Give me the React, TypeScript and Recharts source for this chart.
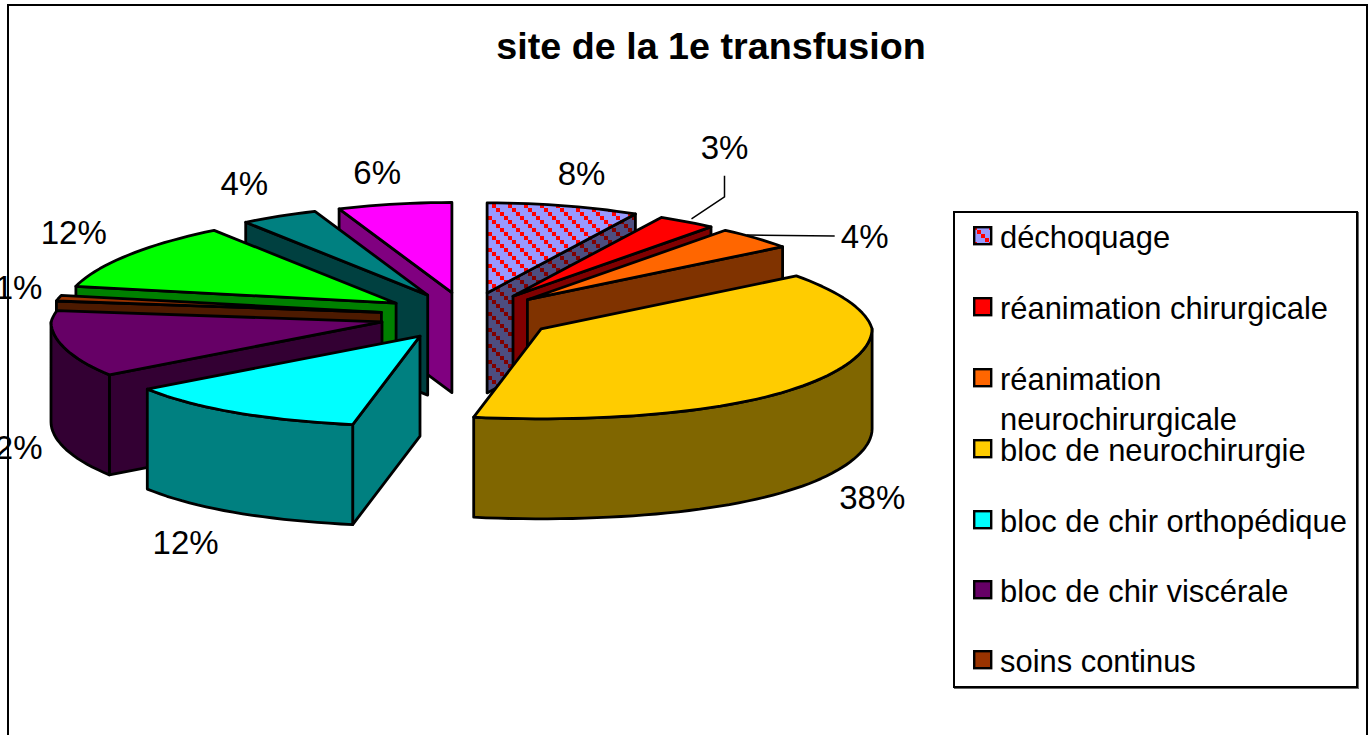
import React from "react";
import { PieChart, Pie, Legend } from "recharts";

const W = 1372;
const H = 735;

const TITLE = "site de la 1e transfusion";
const categories = [
  "déchoquage",
  "réanimation chirurgicale",
  "réanimation neurochirurgicale",
  "bloc de neurochirurgie",
  "bloc de chir orthopédique",
  "bloc de chir viscérale",
  "soins continus",
  "bloc de chir vasculaire",
  "bloc de chir thoracique",
  "autre",
];
const percents = [8, 3, 4, 38, 12, 12, 1, 12, 4, 6];
const fills = ["url(#hatch)", "#ff0000", "#ff6600", "#ffcc00", "#00ffff", "#660066", "#993300", "#00ff00", "#008080", "#ff00ff"];
const sides = ["url(#hatchDark)", "#800000", "#803300", "#806600", "#008080", "#330033", "#4d1a00", "#008000", "#004040", "#800080"];
const legendCount = 7;

const rows = categories.map((name, i) => ({ name, value: percents[i], fill: fills[i], side: sides[i] }));
const FRONT_RIGHT = 4; // slices drawn clockwise from the top
const rightRows = rows.slice(0, FRONT_RIGHT);
const leftRows = rows.slice(FRONT_RIGHT).reverse(); // drawn back to front, counter-clockwise
const total = percents.reduce((a, b) => a + b, 0);
const rightShare = rightRows.reduce((a, r) => a + r.value, 0) / total;

// layout of the tilted pie
const CX = 467;
const CY = 316;
const RX = 331;
const SQUASH = 0.272;
const EXPLODE = 0.265;
const DEPTH = 100;
const PERSPECTIVE_BACK = 0.08;
const PERSPECTIVE_FRONT = 0.09;
const FONT = "'Liberation Sans', Arial, sans-serif";

const labelLayout: Record<string, { dx: number; dy: number; leader?: [number, number][] }> = {
  "déchoquage": { dx: 9, dy: -32 },
  "réanimation chirurgicale": { dx: 20, dy: -74, leader: [[-13, -3], [20, -25], [20, -46]] },
  "réanimation neurochirurgicale": { dx: 90, dy: -2, leader: [[-28, -3], [60, -2]] },
  "bloc de neurochirurgie": { dx: 49, dy: 120 },
  "bloc de chir orthopédique": { dx: -57, dy: 130 },
  "bloc de chir viscérale": { dx: -51, dy: 103 },
  "soins continus": { dx: -34, dy: -11 },
  "bloc de chir vasculaire": { dx: -39, dy: -22 },
  "bloc de chir thoracique": { dx: -21, dy: -33 },
  autre: { dx: -12, dy: -32 },
};

const rad = (d: number) => (d * Math.PI) / 180;

function widthFactor(a: number) {
  const s = Math.sin(rad(a));
  return s > 0 ? 1 - PERSPECTIVE_BACK * s : 1 + PERSPECTIVE_FRONT * Math.pow(-s, 3);
}

function normalise(startAngle: number, endAngle: number) {
  let lo = Math.min(startAngle, endAngle);
  let hi = Math.max(startAngle, endAngle);
  if (hi > 90.001) {
    lo -= 360;
    hi -= 360;
  }
  return { lo, hi };
}

function geometry(p: any) {
  const { lo, hi } = normalise(p.startAngle, p.endAngle);
  const rx = p.outerRadius;
  const ry = rx * SQUASH;
  const mid = (lo + hi) / 2;
  const back = Math.max(0, Math.sin(rad(mid)));
  const ax = p.cx + EXPLODE * rx * Math.cos(rad(mid)) * (1 - PERSPECTIVE_BACK * back);
  const ay = p.cy - EXPLODE * ry * Math.sin(rad(mid));
  const at = (a: number, drop = 0): [number, number] => [
    ax + rx * Math.cos(rad(a)) * widthFactor(a),
    ay - ry * Math.sin(rad(a)) + drop,
  ];
  const flatRim: [number, number] = [
    p.cx + 1 + EXPLODE * rx * Math.cos(rad(mid)) + (rx + 2) * Math.cos(rad(mid)),
    ay - ry * Math.sin(rad(mid)),
  ];
  return { lo, hi, rx, ry, mid, ax, ay, at, flatRim };
}

const pts = (list: [number, number][]) => list.map((q) => q.map((v) => v.toFixed(1)).join(",")).join(" ");

function arcPoints(at: (a: number, d?: number) => [number, number], from: number, to: number, drop = 0) {
  const out: [number, number][] = [];
  const n = Math.max(2, Math.ceil(Math.abs(to - from) / 2));
  for (let i = 0; i <= n; i++) out.push(at(from + ((to - from) * i) / n, drop));
  return out;
}

const stroke = { stroke: "#000", strokeWidth: 2.8, strokeLinejoin: "round" as const };

function Slice3D(props: any) {
  const { lo, hi, ax, ay, at } = geometry(props);
  const side = props.side ?? props.payload?.side;
  const top = props.payload?.fill ?? props.fill;
  const sLo = Math.max(lo, -180);
  const sHi = Math.min(hi, 0);
  const wall = (a: number) => {
    const e = at(a);
    return pts([[ax, ay], e, [e[0], e[1] + DEPTH], [ax, ay + DEPTH]]);
  };
  return (
    <g>
      <defs>
        <pattern id="hatch" width="16" height="16" patternUnits="userSpaceOnUse">
          <rect width="16" height="16" fill="#9999ff" />
          <path d="M0 0h4v4h-4zM4 4h4v4h-4zM8 8h4v4h-4zM12 12h4v4h-4z" fill="#ff0000" />
        </pattern>
        <pattern id="hatchDark" width="16" height="16" patternUnits="userSpaceOnUse">
          <rect width="16" height="16" fill="#4d4d80" />
          <path d="M0 0h4v4h-4zM4 4h4v4h-4zM8 8h4v4h-4zM12 12h4v4h-4z" fill="#800000" />
        </pattern>
      </defs>
      {Math.cos(rad(lo)) > 0 && <polygon points={wall(lo)} fill={side} {...stroke} />}
      {Math.cos(rad(hi)) < 0 && <polygon points={wall(hi)} fill={side} {...stroke} />}
      {sHi > sLo && (
        <polygon
          points={pts([...arcPoints(at, sLo, sHi), ...arcPoints(at, sHi, sLo, DEPTH)])}
          fill={side}
          {...stroke}
        />
      )}
      <polygon points={pts([[ax, ay], ...arcPoints(at, lo, hi)])} fill={top} {...stroke} />
    </g>
  );
}

function SliceLabel(props: any) {
  const { flatRim: rim } = geometry(props);
  const name = props.name ?? props.payload?.name;
  const lay = labelLayout[name];
  const x = rim[0] + lay.dx;
  const y = rim[1] + lay.dy;
  return (
    <g>
      {lay.leader && (
        <polyline
          points={pts(lay.leader.map((q) => [rim[0] + q[0], rim[1] + q[1]] as [number, number]))}
          fill="none"
          stroke="#000"
          strokeWidth={1.5}
        />
      )}
      <text x={x} y={y} textAnchor="middle" dominantBaseline="central" fontFamily={FONT} fontSize={33} fill="#000">
        {`${props.value}%`}
      </text>
    </g>
  );
}

function LegendBox() {
  const rowTops = [237, 308, 379, 450, 521, 591, 661];
  return (
    <div
      style={{
        position: "relative",
        width: 401,
        height: 473,
        border: "2px solid #000",
        boxShadow: "1px 1px 0 #666",
        background: "#fff",
        fontFamily: FONT,
        fontSize: 30.9,
        color: "#000",
      }}
    >
      {rows.slice(0, legendCount).map((r, i) => {
        const words = r.name === "réanimation neurochirurgicale" ? r.name.split(" ") : [r.name];
        const top = rowTops[i] - 212 - 2;
        return (
          <React.Fragment key={r.name}>
            <svg
              width={20}
              height={20}
              style={{ position: "absolute", left: 18, top: top - 10 }}
            >
              <rect x={1.2} y={1.2} width={17} height={17} fill={r.fill} stroke="#000" strokeWidth={2.4} />
            </svg>
            {words.map((w, k) => (
              <div
                key={w}
                style={{ position: "absolute", left: 45, top: top - 18 + k * 40, lineHeight: "40px", whiteSpace: "nowrap" }}
              >
                {w}
              </div>
            ))}
          </React.Fragment>
        );
      })}
    </div>
  );
}

export default function App() {
  return (
    <div style={{ position: "absolute", left: 0, top: 0, width: W, height: H, overflow: "hidden", background: "#fff" }}>
      <div
        style={{
          position: "absolute",
          left: 7,
          top: 4,
          width: 1361,
          height: H,
          border: "2.5px solid #000",
          boxSizing: "border-box",
        }}
      />
      <div
        style={{
          position: "absolute",
          left: 0,
          width: 1422,
          top: 24,
          textAlign: "center",
          fontFamily: FONT,
          fontWeight: 700,
          fontSize: 37.7,
          lineHeight: "44px",
          color: "#000",
        }}
      >
        {TITLE}
      </div>
      <PieChart width={W} height={H} style={{ position: "absolute", left: 0, top: 0 }} margin={{ top: 0, right: 0, bottom: 0, left: 0 }}>
        <Pie
          data={leftRows}
          dataKey="value"
          nameKey="name"
          cx={CX}
          cy={CY}
          outerRadius={RX}
          startAngle={90}
          endAngle={90 + 360 * (1 - rightShare)}
          stroke="none"
          shape={Slice3D}
          label={SliceLabel}
          labelLine={false}
          isAnimationActive={false}
        />
        <Pie
          data={rightRows}
          dataKey="value"
          nameKey="name"
          cx={CX}
          cy={CY}
          outerRadius={RX}
          startAngle={90}
          endAngle={90 - 360 * rightShare}
          stroke="none"
          shape={Slice3D}
          label={SliceLabel}
          labelLine={false}
          isAnimationActive={false}
        />
        <Legend
          content={<LegendBox />}
          layout="vertical"
          verticalAlign="middle"
          align="right"
          wrapperStyle={{ position: "absolute", left: 953, top: 211, right: "auto", width: 405, height: 477 }}
        />
      </PieChart>
    </div>
  );
}
